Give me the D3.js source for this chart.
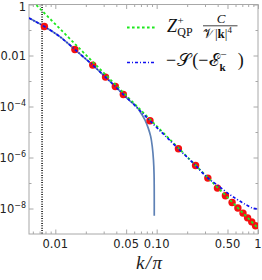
<!DOCTYPE html>
<html>
<head>
<meta charset="utf-8">
<script src="https://cdn.jsdelivr.net/npm/d3@7"></script>
<style>
  body { margin: 0; background: #fff; }
  text { font-family: "DejaVu Sans", sans-serif; }
</style>
</head>
<body>
<div id="chart"></div>
<script>
// red points
const dotK = [0.0078, 0.0156, 0.0234, 0.0313, 0.0391, 0.0469, 0.0859, 0.164, 0.242, 0.320,
              0.398, 0.477, 0.555, 0.633, 0.711, 0.789, 0.867, 0.945]
const dotV = [0.137, 0.0172, 0.0042, 0.00142, 6.1e-4, 2.95e-4, 2.75e-5, 2.19e-6, 4.86e-7, 1.56e-7,
              6.3e-8, 3.15e-8, 1.72e-8, 1.04e-8, 6.6e-9, 4.3e-9, 3.0e-9, 2.1e-9]

// -S(-E_k^-), blue dash-dot
const specK = [0.0055, 0.0065, 0.0078, 0.011, 0.0156, 0.0234, 0.0313, 0.0391, 0.0469, 0.0566,
               0.0859, 0.164, 0.242, 0.285, 0.331, 0.394, 0.502, 0.630, 0.761, 0.886, 1.0]
const specV = [0.293, 0.206, 0.137, 0.056, 0.0172, 0.0042, 0.00142, 6.1e-4, 2.95e-4, 1.46e-4,
               2.75e-5, 2.19e-6, 4.86e-7, 2.44e-7, 1.40e-7, 8.5e-8, 4.0e-8, 2.2e-8, 1.4e-8, 1.04e-8, 9.5e-9]

// solid steel blue curve
const solidK = [0.0055, 0.0065, 0.0078, 0.011, 0.0156, 0.0234, 0.0313, 0.0391, 0.0469, 0.0566,
                0.0611, 0.0684, 0.0766, 0.0826, 0.0873, 0.0905, 0.0930, 0.0943, 0.0947]
const solidV = [0.293, 0.206, 0.137, 0.056, 0.0172, 0.0042, 0.00142, 6.1e-4, 2.95e-4, 1.46e-4,
                1.17e-4, 6.4e-5, 3.0e-5, 1.42e-5, 6.7e-6, 2.7e-6, 8.1e-7, 2.1e-7, 5.2e-9]

// Z C / (V k^4), green dashed
const asymK = [0.006, 1]
const asymV = [1.31, 1.7e-9]

const cutoffK = 0.0074

const xMajor = [0.01, 0.05, 0.1, 0.5, 1]
const xMajorLabels = ["0.01", "0.05", "0.10", "0.50", "1"]
const xMinor = [0.006, 0.007, 0.008, 0.009, 0.02, 0.03, 0.04, 0.06, 0.07, 0.08, 0.09,
                0.2, 0.3, 0.4, 0.6, 0.7, 0.8, 0.9]
const yMajor = [1, 1e-2, 1e-4, 1e-6, 1e-8]
const yMajorLabels = [["1", ""], ["0.01", ""], ["10", "−4"], ["10", "−6"], ["10", "−8"]]
const yMinor = [1e-1, 1e-3, 1e-5, 1e-7]

var width = 262
var height = 280
var frame = {left: 29, right: 258, top: 4.5, bottom: 234}
var frameColor = "#a8a8a8"

var svg = d3.select("#chart")
  .append("svg")
  .attr("width", width)
  .attr("height", height)

var x = d3.scaleLog().domain([0.0055, 1]).range([frame.left, frame.right])
var y = d3.scaleLog().domain([1e-9, 1]).range([frame.bottom, frame.top])

svg.append("clipPath").attr("id", "clip")
  .append("rect")
  .attr("x", frame.left).attr("y", frame.top)
  .attr("width", frame.right - frame.left).attr("height", frame.bottom - frame.top)

// ticks, all pointing inward
function ticks(axis, pos, values, size) {
  var g = svg.append("g")
    .attr("transform", pos)
    .call(axis.tickValues(values).tickSize(-size).tickFormat(""))
  g.select(".domain").remove()
  g.selectAll("line").attr("stroke", frameColor)
  return g
}
ticks(d3.axisBottom(x), `translate(0,${frame.bottom})`, xMajor, 4.5)
ticks(d3.axisBottom(x), `translate(0,${frame.bottom})`, xMinor, 2.5)
ticks(d3.axisTop(x), `translate(0,${frame.top})`, xMajor, 4.5)
ticks(d3.axisTop(x), `translate(0,${frame.top})`, xMinor, 2.5)
ticks(d3.axisLeft(y), `translate(${frame.left},0)`, yMajor, 4.5)
ticks(d3.axisLeft(y), `translate(${frame.left},0)`, yMinor, 2.5)
ticks(d3.axisRight(y), `translate(${frame.right},0)`, yMajor, 4.5)
ticks(d3.axisRight(y), `translate(${frame.right},0)`, yMinor, 2.5)

svg.append("rect")
  .attr("x", frame.left).attr("y", frame.top)
  .attr("width", frame.right - frame.left).attr("height", frame.bottom - frame.top)
  .attr("fill", "none")
  .attr("stroke", frameColor)
  .attr("stroke-width", 1)

// tick labels
svg.append("g")
  .selectAll("text")
  .data(xMajor)
  .join("text")
    .attr("x", d => x(d))
    .attr("y", 248)
    .attr("text-anchor", "middle")
    .attr("font-size", 11.5)
    .attr("fill", "#222")
    .text((d, i) => xMajorLabels[i])

var ylab = svg.append("g")
  .selectAll("text")
  .data(yMajor)
  .join("text")
    .attr("x", 26)
    .attr("y", d => Math.max(y(d) + 4.2, 11))
    .attr("text-anchor", "end")
    .attr("font-size", 11.5)
    .attr("fill", "#222")
ylab.append("tspan").text((d, i) => yMajorLabels[i][0])
ylab.append("tspan")
  .attr("font-size", 8)
  .attr("dy", -5)
  .text((d, i) => yMajorLabels[i][1])

// axis title
var title = svg.append("text")
  .attr("x", 149)
  .attr("y", 269)
  .attr("text-anchor", "middle")
  .style("font-family", "'Liberation Serif', serif")
  .attr("font-size", 19)
  .attr("font-style", "italic")
  .attr("fill", "#222")
title.append("tspan").text("k")
title.append("tspan").attr("dx", 1.5).text("/")
title.append("tspan").attr("dx", 1.5).text("π")

var plot = svg.append("g").attr("clip-path", "url(#clip)")

// cutoff
plot.append("line")
  .attr("x1", x(cutoffK)).attr("x2", x(cutoffK))
  .attr("y1", frame.top).attr("y2", frame.bottom)
  .attr("stroke", "#111")
  .attr("stroke-width", 1.6)
  .attr("stroke-dasharray", "1,1.4")

var line = d3.line()
  .x(d => x(d[0]))
  .y(d => y(d[1]))
  .curve(d3.curveCatmullRom.alpha(0.5))

plot.append("path")
  .datum(d3.zip(solidK, solidV))
  .attr("fill", "none")
  .attr("stroke", "#5e81b5")
  .attr("stroke-width", 1.7)
  .attr("d", line)

plot.append("g")
  .selectAll("circle")
  .data(d3.zip(dotK, dotV))
  .join("circle")
    .attr("cx", d => x(d[0]))
    .attr("cy", d => y(d[1]))
    .attr("r", 3.7)
    .attr("fill", "#f41010")

plot.append("path")
  .datum(d3.zip(asymK, asymV))
  .attr("fill", "none")
  .attr("stroke", "#1ee81e")
  .attr("stroke-width", 1.8)
  .attr("stroke-dasharray", "2.6,2.4")
  .attr("d", d3.line().x(d => x(d[0])).y(d => y(d[1])))

plot.append("path")
  .datum(d3.zip(specK, specV))
  .attr("fill", "none")
  .attr("stroke", "#1010f0")
  .attr("stroke-width", 1.7)
  .attr("stroke-dasharray", "3,2,1,2")
  .attr("d", line)

// legend
var legend = svg.append("g")
legend.append("line")
  .attr("x1", 127).attr("x2", 155).attr("y1", 27.5).attr("y2", 27.5)
  .attr("stroke", "#1ee81e").attr("stroke-width", 1.8).attr("stroke-dasharray", "2.6,2.4")
legend.append("line")
  .attr("x1", 127).attr("x2", 155).attr("y1", 62.5).attr("y2", 62.5)
  .attr("stroke", "#1010f0").attr("stroke-width", 1.7).attr("stroke-dasharray", "3,2,1,2")

var serif = "'Liberation Serif', 'DejaVu Serif', serif"
function math(px, py, size, parts) {
  var t = legend.append("text")
    .attr("x", px).attr("y", py)
    .style("font-family", serif)
    .attr("font-size", size)
    .attr("fill", "#111")
  parts.forEach(p => {
    var s = t.append("tspan").text(p.t)
    if (p.i) s.attr("font-style", "italic")
    if (p.b) s.attr("font-weight", "bold")
    if (p.s) s.attr("font-size", p.s)
    if (p.dx) s.attr("dx", p.dx)
    if (p.dy) s.attr("dy", p.dy)
  })
  return t
}

// Z^+_QP  C / (V |k|^4)
math(167, 31.5, 18, [{t: "Z", i: true}, {t: "+", s: 11, dx: 0.5, dy: -8}, {t: "QP", s: 12, dx: -6.5, dy: 12}])
math(221, 23, 13, [{t: "C", i: true}]).attr("text-anchor", "middle")
legend.append("line")
  .attr("x1", 203).attr("x2", 237.5).attr("y1", 25.8).attr("y2", 25.8)
  .attr("stroke", "#111").attr("stroke-width", 0.8)
math(203, 37.5, 13, [{t: "𝒱"}, {t: "|", dx: 1}, {t: "k", b: true}, {t: "|"}, {t: "4", s: 9, dy: -5}])

// -S(-E_k^-)
math(166, 66, 18, [{t: "−"}, {t: "𝒮", dx: 1}, {t: "(", dx: 1}, {t: "−"}, {t: "ℰ", dx: 1},
                   {t: "−", s: 11, dx: 1, dy: -8}, {t: "k", s: 11, b: true, dx: -7, dy: 13}, {t: ")", dx: 12, dy: -5}])
</script>
</body>
</html>
